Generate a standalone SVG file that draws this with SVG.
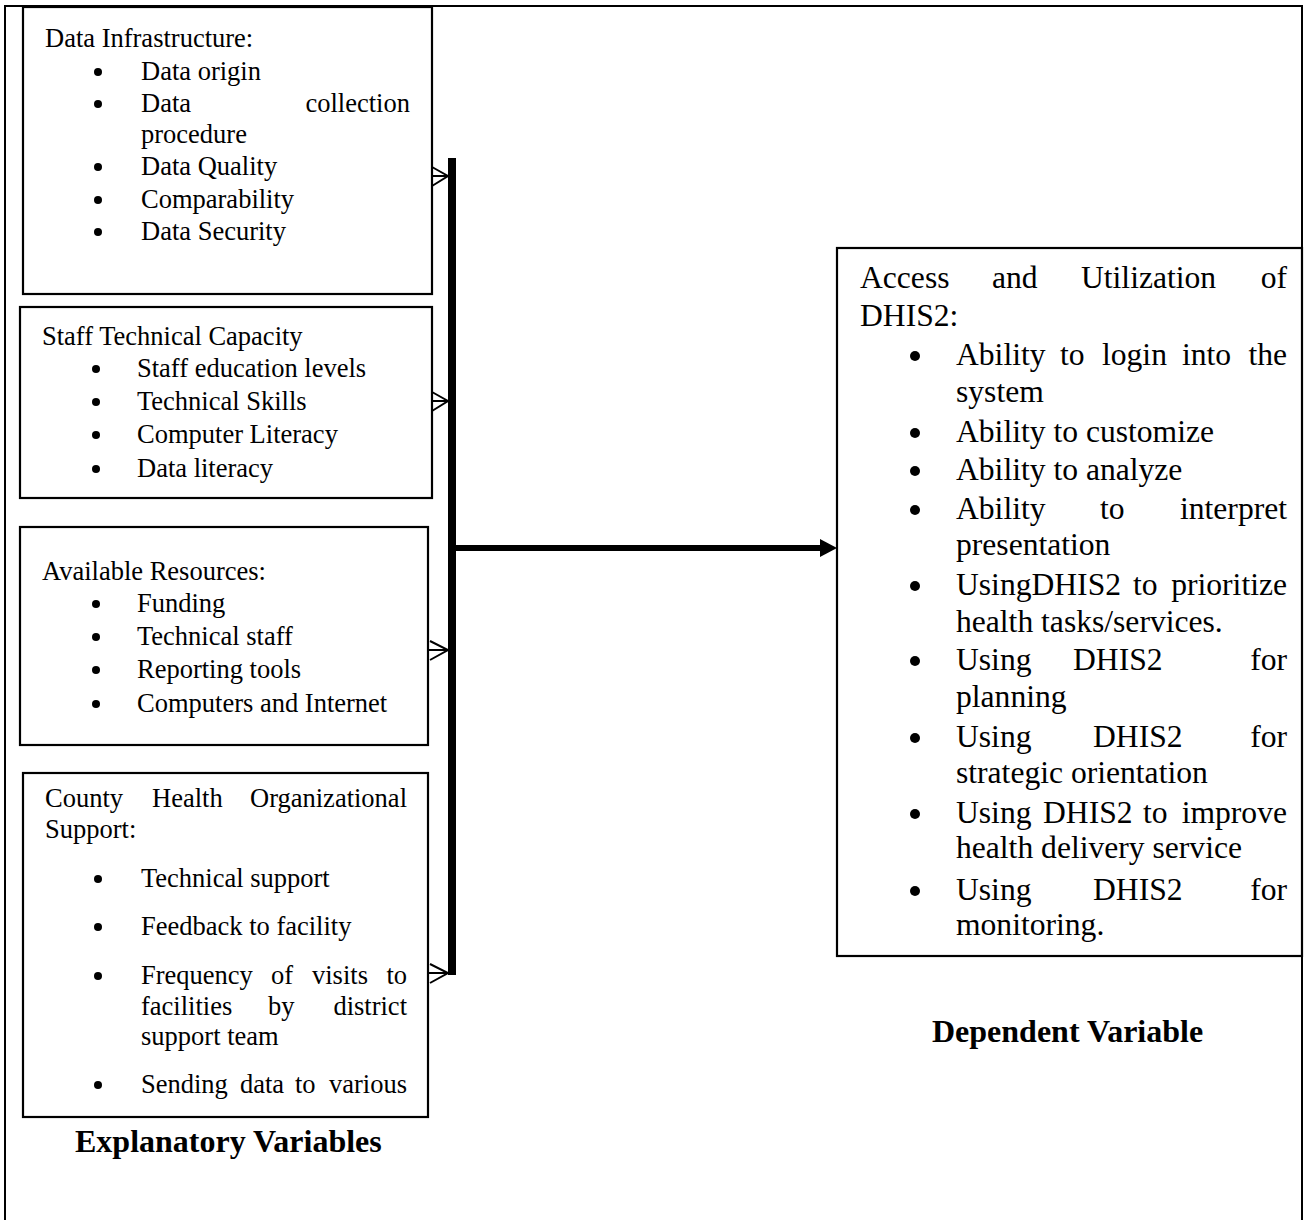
<svg xmlns="http://www.w3.org/2000/svg" width="1307" height="1220" viewBox="0 0 1307 1220">
<style>
.t{font-family:"Liberation Serif","Times New Roman",serif;fill:#000}
.l{font-size:26.5px}
.r{font-size:31.6px}
.b{font-size:32px;font-weight:bold}
.box{fill:#fff;stroke:#000;stroke-width:2.2}
.e{text-anchor:end}
.thin{stroke:#000;stroke-width:2;fill:none}
</style>
<rect width="1307" height="1220" fill="#fff"/>
<path d="M5,1220 V6 H1302 V1220" class="thin" stroke-width="2.5"/>

<g id="data-infrastructure">
<rect class="box" x="23" y="7" width="409" height="287"/>
<text class="t l" x="45" y="47">Data Infrastructure:</text>
<circle cx="98" cy="72" r="4"/><text class="t l" x="141" y="80">Data origin</text>
<circle cx="98" cy="104" r="4"/><text class="t l" x="141" y="112">Data</text><text class="t l e" x="410" y="112">collection</text>
<text class="t l" x="141" y="143">procedure</text>
<circle cx="98" cy="167" r="4"/><text class="t l" x="141" y="175">Data Quality</text>
<circle cx="98" cy="200" r="4"/><text class="t l" x="141" y="208">Comparability</text>
<circle cx="98" cy="232" r="4"/><text class="t l" x="141" y="240">Data Security</text>
</g>

<g id="staff-technical-capacity">
<rect class="box" x="20" y="307" width="412" height="191"/>
<text class="t l" x="42" y="345">Staff Technical Capacity</text>
<circle cx="96" cy="369" r="4"/><text class="t l" x="137" y="377">Staff education levels</text>
<circle cx="96" cy="402" r="4"/><text class="t l" x="137" y="410">Technical Skills</text>
<circle cx="96" cy="435" r="4"/><text class="t l" x="137" y="443">Computer Literacy</text>
<circle cx="96" cy="469" r="4"/><text class="t l" x="137" y="477">Data literacy</text>
</g>

<g id="available-resources">
<rect class="box" x="20" y="527" width="408" height="218"/>
<text class="t l" x="42" y="580">Available Resources:</text>
<circle cx="96" cy="604" r="4"/><text class="t l" x="137" y="612">Funding</text>
<circle cx="96" cy="637" r="4"/><text class="t l" x="137" y="645">Technical staff</text>
<circle cx="96" cy="670" r="4"/><text class="t l" x="137" y="678">Reporting tools</text>
<circle cx="96" cy="704" r="4"/><text class="t l" x="137" y="712">Computers and Internet</text>
</g>

<g id="county-health-support">
<rect class="box" x="23" y="773" width="405" height="344"/>
<text class="t l" x="45" y="807">County</text><text class="t l" x="152" y="807">Health</text><text class="t l e" x="407" y="807">Organizational</text>
<text class="t l" x="45" y="838">Support:</text>
<circle cx="98" cy="879" r="4"/><text class="t l" x="141" y="887">Technical support</text>
<circle cx="98" cy="927" r="4"/><text class="t l" x="141" y="935">Feedback to facility</text>
<circle cx="98" cy="976" r="4"/><text class="t l" x="141" y="984">Frequency</text><text class="t l" x="271" y="984">of</text><text class="t l" x="312" y="984">visits</text><text class="t l e" x="407" y="984">to</text>
<text class="t l" x="141" y="1015">facilities</text><text class="t l" x="268" y="1015">by</text><text class="t l e" x="407" y="1015">district</text>
<text class="t l" x="141" y="1045">support team</text>
<circle cx="98" cy="1085" r="4"/><text class="t l" x="141" y="1093">Sending</text><text class="t l" x="240" y="1093">data</text><text class="t l" x="295" y="1093">to</text><text class="t l e" x="407" y="1093">various</text>
</g>

<g id="access-utilization-dhis2">
<rect class="box" x="837" y="248" width="465" height="708"/>
<text class="t r" x="860" y="288">Access</text><text class="t r" x="992" y="288">and</text><text class="t r" x="1081" y="288">Utilization</text><text class="t r e" x="1287" y="288">of</text>
<text class="t r" x="860" y="326">DHIS2:</text>
<circle cx="915" cy="356" r="5"/><text class="t r" x="956" y="365">Ability</text><text class="t r" x="1060" y="365">to</text><text class="t r" x="1102" y="365">login</text><text class="t r" x="1182" y="365">into</text><text class="t r e" x="1287" y="365">the</text>
<text class="t r" x="956" y="402">system</text>
<circle cx="915" cy="433" r="5"/><text class="t r" x="956" y="442">Ability to customize</text>
<circle cx="915" cy="471" r="5"/><text class="t r" x="956" y="480">Ability to analyze</text>
<circle cx="915" cy="510" r="5"/><text class="t r" x="956" y="519">Ability</text><text class="t r" x="1100" y="519">to</text><text class="t r e" x="1287" y="519">interpret</text>
<text class="t r" x="956" y="555">presentation</text>
<circle cx="915" cy="586" r="5"/><text class="t r" x="956" y="595">UsingDHIS2</text><text class="t r" x="1133" y="595">to</text><text class="t r e" x="1287" y="595">prioritize</text>
<text class="t r" x="956" y="632">health tasks/services.</text>
<circle cx="915" cy="661" r="5"/><text class="t r" x="956" y="670">Using</text><text class="t r" x="1073" y="670">DHIS2</text><text class="t r e" x="1287" y="670">for</text>
<text class="t r" x="956" y="707">planning</text>
<circle cx="915" cy="738" r="5"/><text class="t r" x="956" y="747">Using</text><text class="t r" x="1093" y="747">DHIS2</text><text class="t r e" x="1287" y="747">for</text>
<text class="t r" x="956" y="783">strategic orientation</text>
<circle cx="915" cy="814" r="5"/><text class="t r" x="956" y="823">Using</text><text class="t r" x="1043" y="823">DHIS2</text><text class="t r" x="1143" y="823">to</text><text class="t r e" x="1287" y="823">improve</text>
<text class="t r" x="956" y="858">health delivery service</text>
<circle cx="915" cy="891" r="5"/><text class="t r" x="956" y="900">Using</text><text class="t r" x="1093" y="900">DHIS2</text><text class="t r e" x="1287" y="900">for</text>
<text class="t r" x="956" y="935">monitoring.</text>
</g>

<g id="labels">
<text class="t b" x="75" y="1152">Explanatory Variables</text>
<text class="t b" x="932" y="1042">Dependent Variable</text>
</g>

<g id="connectors">
<rect x="448" y="158" width="8" height="817" fill="#000"/>
<path d="M432,176 H448 M432,167 L448,176 L432,186" class="thin"/>
<path d="M432,401 H448 M432,392 L448,401 L432,411" class="thin"/>
<path d="M428,650 H448 M430,641 L448,650 L430,660" class="thin"/>
<path d="M428,973 H448 M430,964 L448,973 L430,983" class="thin"/>
<line x1="456" y1="548" x2="822" y2="548" stroke="#000" stroke-width="6"/>
<polygon points="820,539 837,548 820,557" fill="#000"/>
</g>
</svg>
